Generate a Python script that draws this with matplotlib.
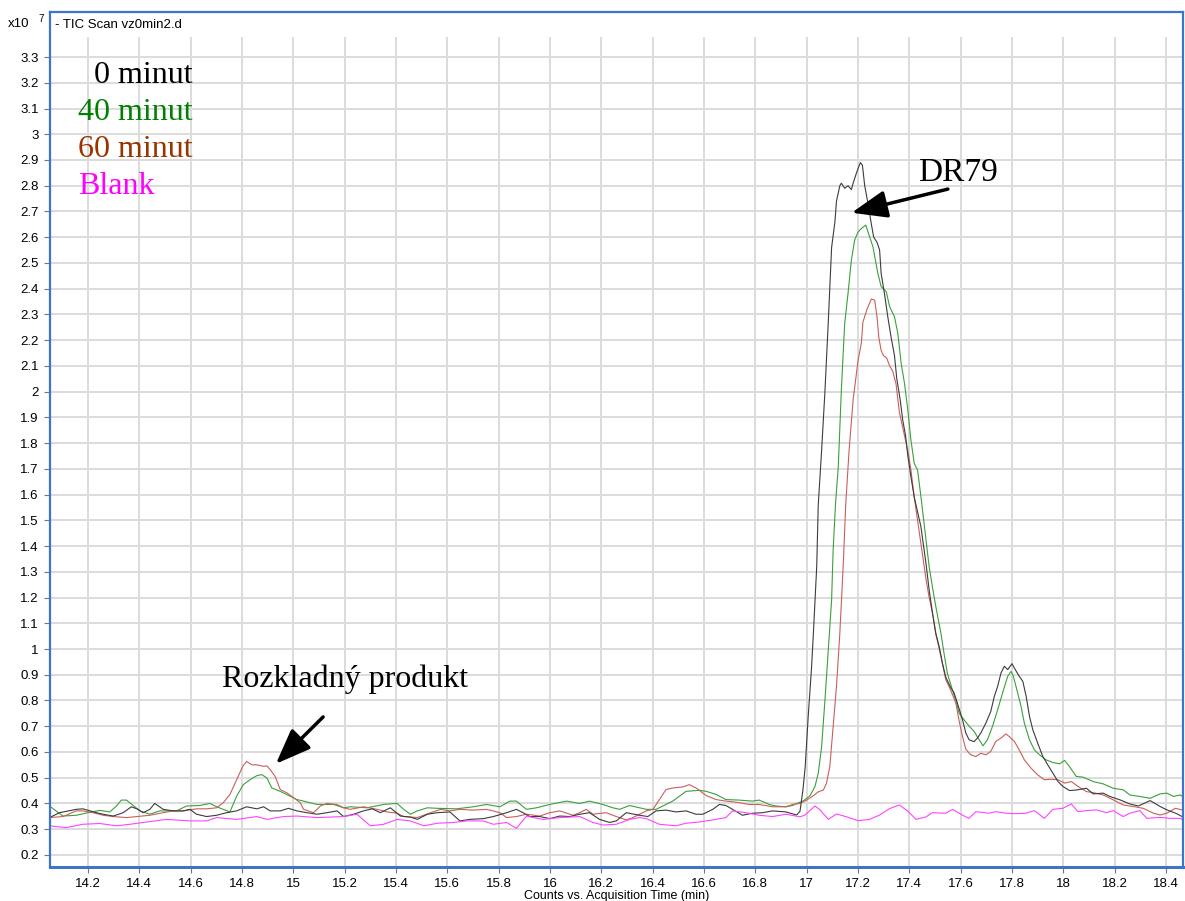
import matplotlib
matplotlib.use("Agg")
import matplotlib.pyplot as plt
from matplotlib.patches import Rectangle
from matplotlib.ticker import MultipleLocator, FormatStrFormatter
import numpy as np

# (time [min], counts x10^7)
min0 = [(14.05, 0.345), (14.089, 0.364), (14.154, 0.377), (14.18, 0.379), (14.233, 0.364), (14.259, 0.358),
        (14.298, 0.351), (14.337, 0.364), (14.369, 0.387), (14.395, 0.377), (14.415, 0.364), (14.441, 0.377),
        (14.46, 0.400), (14.493, 0.377), (14.532, 0.371), (14.571, 0.371), (14.597, 0.377), (14.623, 0.358),
        (14.662, 0.349), (14.701, 0.354), (14.74, 0.364), (14.779, 0.371), (14.818, 0.387), (14.858, 0.379),
        (14.884, 0.387), (14.91, 0.371), (14.949, 0.371), (14.981, 0.381), (15.014, 0.371), (15.053, 0.364),
        (15.092, 0.358), (15.131, 0.364), (15.17, 0.371), (15.196, 0.349), (15.235, 0.358), (15.274, 0.371),
        (15.307, 0.379), (15.339, 0.364), (15.378, 0.383), (15.417, 0.351), (15.456, 0.347), (15.483, 0.338),
        (15.522, 0.358), (15.561, 0.364), (15.61, 0.367), (15.649, 0.332), (15.688, 0.338), (15.74, 0.341),
        (15.779, 0.349), (15.831, 0.364), (15.869, 0.377), (15.895, 0.364), (15.921, 0.349), (15.96, 0.349),
        (15.999, 0.341), (16.038, 0.351), (16.077, 0.349), (16.116, 0.358), (16.154, 0.364), (16.193, 0.338),
        (16.232, 0.326), (16.258, 0.332), (16.297, 0.364), (16.349, 0.354), (16.381, 0.349), (16.413, 0.371),
        (16.452, 0.374), (16.491, 0.367), (16.53, 0.371), (16.569, 0.358), (16.595, 0.358), (16.634, 0.377),
        (16.66, 0.396), (16.685, 0.392), (16.711, 0.377), (16.75, 0.354), (16.789, 0.362), (16.828, 0.364),
        (16.867, 0.371), (16.919, 0.367), (16.961, 0.355), (16.974, 0.370), (16.985, 0.450), (16.994, 0.540),
        (17.006, 0.740), (17.019, 0.930), (17.026, 1.060), (17.039, 1.320), (17.045, 1.560), (17.058, 1.770),
        (17.071, 2.000), (17.084, 2.270), (17.097, 2.560), (17.11, 2.660), (17.116, 2.740), (17.129, 2.800),
        (17.135, 2.810), (17.148, 2.790), (17.161, 2.800), (17.174, 2.785), (17.181, 2.810), (17.194, 2.850),
        (17.209, 2.890), (17.217, 2.880), (17.226, 2.800), (17.239, 2.730), (17.252, 2.650), (17.261, 2.600),
        (17.274, 2.580), (17.284, 2.550), (17.29, 2.460), (17.303, 2.380), (17.316, 2.290), (17.329, 2.210),
        (17.342, 2.140), (17.351, 2.050), (17.364, 1.970), (17.374, 1.890), (17.385, 1.830), (17.394, 1.750),
        (17.406, 1.670), (17.419, 1.590), (17.445, 1.475), (17.465, 1.330), (17.477, 1.230), (17.49, 1.140),
        (17.503, 1.060), (17.516, 1.010), (17.529, 0.944), (17.542, 0.890), (17.561, 0.850), (17.574, 0.830),
        (17.587, 0.790), (17.607, 0.725), (17.62, 0.673), (17.633, 0.647), (17.652, 0.640), (17.665, 0.654),
        (17.678, 0.673), (17.698, 0.712), (17.717, 0.757), (17.731, 0.816), (17.744, 0.855), (17.757, 0.907),
        (17.77, 0.933), (17.783, 0.920), (17.8, 0.943), (17.809, 0.926), (17.828, 0.894), (17.842, 0.874),
        (17.855, 0.816), (17.868, 0.738), (17.881, 0.686), (17.9, 0.634), (17.92, 0.582), (17.939, 0.550),
        (17.959, 0.518), (17.979, 0.485), (17.998, 0.466), (18.024, 0.450), (18.05, 0.452), (18.09, 0.459),
        (18.116, 0.437), (18.155, 0.440), (18.181, 0.427), (18.22, 0.414), (18.259, 0.398), (18.292, 0.390),
        (18.338, 0.411), (18.377, 0.388), (18.403, 0.375), (18.442, 0.360), (18.475, 0.342)]

min40 = [(14.05, 0.390), (14.102, 0.351), (14.154, 0.354), (14.2, 0.364), (14.246, 0.373), (14.285, 0.367),
         (14.311, 0.390), (14.33, 0.413), (14.35, 0.413), (14.376, 0.392), (14.402, 0.371), (14.441, 0.358),
         (14.48, 0.371), (14.545, 0.371), (14.584, 0.390), (14.636, 0.392), (14.675, 0.400), (14.701, 0.387),
         (14.727, 0.377), (14.753, 0.367), (14.779, 0.428), (14.805, 0.473), (14.831, 0.492), (14.858, 0.508),
         (14.877, 0.512), (14.897, 0.499), (14.916, 0.460), (14.949, 0.447), (14.988, 0.428), (15.014, 0.415),
         (15.04, 0.409), (15.092, 0.396), (15.157, 0.396), (15.196, 0.383), (15.222, 0.387), (15.287, 0.383),
         (15.352, 0.396), (15.404, 0.400), (15.43, 0.377), (15.456, 0.358), (15.483, 0.371), (15.522, 0.383),
         (15.561, 0.381), (15.636, 0.379), (15.701, 0.387), (15.753, 0.396), (15.805, 0.387), (15.844, 0.409),
         (15.869, 0.409), (15.908, 0.377), (15.947, 0.383), (15.999, 0.396), (16.064, 0.409), (16.116, 0.400),
         (16.154, 0.409), (16.206, 0.396), (16.245, 0.383), (16.271, 0.377), (16.31, 0.392), (16.349, 0.383),
         (16.375, 0.377), (16.413, 0.377), (16.452, 0.396), (16.478, 0.409), (16.53, 0.447), (16.582, 0.451),
         (16.608, 0.447), (16.647, 0.435), (16.685, 0.415), (16.737, 0.413), (16.789, 0.409), (16.815, 0.413),
         (16.854, 0.396), (16.88, 0.390), (16.919, 0.387), (16.945, 0.392), (16.961, 0.400), (16.987, 0.410),
         (17.013, 0.430), (17.032, 0.465), (17.045, 0.517), (17.058, 0.620), (17.071, 0.800), (17.084, 0.996),
         (17.097, 1.190), (17.103, 1.385), (17.112, 1.560), (17.123, 1.708), (17.135, 2.006), (17.148, 2.265),
         (17.161, 2.382), (17.174, 2.511), (17.187, 2.589), (17.2, 2.620), (17.213, 2.634), (17.23, 2.647),
         (17.258, 2.563), (17.277, 2.460), (17.29, 2.408), (17.31, 2.388), (17.323, 2.330), (17.342, 2.291),
         (17.355, 2.226), (17.368, 2.110), (17.381, 2.032), (17.394, 1.928), (17.406, 1.812), (17.419, 1.721),
         (17.432, 1.695), (17.445, 1.592), (17.465, 1.420), (17.477, 1.320), (17.49, 1.240), (17.503, 1.165),
         (17.523, 1.060), (17.535, 0.983), (17.548, 0.905), (17.568, 0.840), (17.581, 0.800), (17.594, 0.750),
         (17.613, 0.725), (17.633, 0.700), (17.652, 0.680), (17.672, 0.647), (17.687, 0.624), (17.704, 0.647),
         (17.724, 0.700), (17.744, 0.764), (17.763, 0.829), (17.783, 0.894), (17.796, 0.913), (17.805, 0.894),
         (17.822, 0.829), (17.835, 0.777), (17.848, 0.712), (17.868, 0.647), (17.887, 0.608), (17.907, 0.589),
         (17.933, 0.569), (17.959, 0.559), (17.985, 0.554), (18.005, 0.567), (18.024, 0.543), (18.05, 0.505),
         (18.077, 0.502), (18.116, 0.485), (18.155, 0.476), (18.194, 0.459), (18.233, 0.453), (18.259, 0.433),
         (18.298, 0.427), (18.338, 0.420), (18.377, 0.437), (18.403, 0.440), (18.429, 0.427), (18.455, 0.433),
         (18.475, 0.420)]

min60 = [(14.05, 0.345), (14.102, 0.349), (14.154, 0.371), (14.18, 0.371), (14.22, 0.364), (14.259, 0.354),
         (14.298, 0.349), (14.35, 0.345), (14.389, 0.349), (14.441, 0.354), (14.493, 0.364), (14.532, 0.371),
         (14.571, 0.371), (14.623, 0.379), (14.662, 0.379), (14.701, 0.383), (14.727, 0.403), (14.753, 0.435),
         (14.779, 0.492), (14.803, 0.544), (14.818, 0.563), (14.838, 0.550), (14.858, 0.550), (14.884, 0.544),
         (14.897, 0.546), (14.91, 0.531), (14.929, 0.505), (14.949, 0.454), (14.975, 0.441), (15.001, 0.422),
         (15.027, 0.403), (15.04, 0.377), (15.079, 0.364), (15.105, 0.390), (15.131, 0.400), (15.17, 0.396),
         (15.196, 0.383), (15.222, 0.377), (15.274, 0.387), (15.326, 0.377), (15.365, 0.367), (15.404, 0.362),
         (15.43, 0.349), (15.483, 0.345), (15.535, 0.364), (15.574, 0.377), (15.61, 0.371), (15.649, 0.377),
         (15.701, 0.374), (15.753, 0.377), (15.805, 0.364), (15.831, 0.345), (15.869, 0.349), (15.908, 0.358),
         (15.96, 0.351), (15.999, 0.364), (16.038, 0.371), (16.09, 0.354), (16.116, 0.364), (16.141, 0.377),
         (16.167, 0.358), (16.219, 0.364), (16.258, 0.349), (16.297, 0.336), (16.323, 0.345), (16.349, 0.358),
         (16.375, 0.371), (16.401, 0.377), (16.426, 0.415), (16.452, 0.454), (16.478, 0.460), (16.517, 0.464),
         (16.543, 0.473), (16.569, 0.460), (16.608, 0.431), (16.647, 0.415), (16.685, 0.409), (16.724, 0.405),
         (16.776, 0.396), (16.815, 0.396), (16.867, 0.387), (16.919, 0.387), (16.945, 0.396), (16.974, 0.400),
         (17.0, 0.413), (17.026, 0.430), (17.045, 0.445), (17.065, 0.452), (17.077, 0.478), (17.09, 0.543),
         (17.103, 0.700), (17.116, 0.854), (17.129, 1.060), (17.142, 1.320), (17.152, 1.560), (17.165, 1.770),
         (17.181, 1.970), (17.2, 2.120), (17.213, 2.190), (17.219, 2.270), (17.235, 2.320), (17.252, 2.360),
         (17.265, 2.355), (17.274, 2.290), (17.281, 2.210), (17.29, 2.160), (17.299, 2.140), (17.312, 2.130),
         (17.323, 2.100), (17.335, 2.080), (17.348, 2.030), (17.361, 1.920), (17.381, 1.830), (17.394, 1.770),
         (17.406, 1.695), (17.419, 1.590), (17.439, 1.450), (17.452, 1.360), (17.465, 1.270), (17.477, 1.200),
         (17.49, 1.140), (17.503, 1.060), (17.523, 0.970), (17.542, 0.880), (17.561, 0.840), (17.581, 0.790),
         (17.594, 0.720), (17.607, 0.660), (17.62, 0.610), (17.639, 0.589), (17.659, 0.582), (17.678, 0.595),
         (17.698, 0.589), (17.717, 0.602), (17.737, 0.641), (17.757, 0.654), (17.776, 0.670), (17.789, 0.660),
         (17.809, 0.641), (17.828, 0.608), (17.848, 0.569), (17.874, 0.537), (17.9, 0.511), (17.926, 0.492),
         (17.952, 0.494), (17.979, 0.492), (18.005, 0.479), (18.031, 0.485), (18.057, 0.466), (18.09, 0.446),
         (18.116, 0.442), (18.155, 0.433), (18.194, 0.414), (18.233, 0.394), (18.272, 0.388), (18.311, 0.381),
         (18.351, 0.362), (18.377, 0.355), (18.403, 0.362), (18.436, 0.381), (18.462, 0.375), (18.475, 0.362)]

blank = [(14.05, 0.313), (14.115, 0.306), (14.18, 0.319), (14.246, 0.322), (14.311, 0.313), (14.363, 0.319),
         (14.415, 0.326), (14.506, 0.338), (14.597, 0.332), (14.662, 0.332), (14.701, 0.345), (14.779, 0.338),
         (14.858, 0.349), (14.897, 0.338), (14.962, 0.349), (15.014, 0.351), (15.092, 0.345), (15.196, 0.349),
         (15.248, 0.358), (15.3, 0.313), (15.352, 0.319), (15.404, 0.338), (15.456, 0.332), (15.509, 0.313),
         (15.561, 0.323), (15.623, 0.326), (15.675, 0.332), (15.74, 0.332), (15.779, 0.319), (15.831, 0.326),
         (15.869, 0.303), (15.908, 0.351), (15.934, 0.345), (15.973, 0.338), (16.038, 0.345), (16.116, 0.349),
         (16.167, 0.326), (16.206, 0.316), (16.258, 0.319), (16.31, 0.338), (16.349, 0.345), (16.375, 0.341),
         (16.426, 0.319), (16.491, 0.313), (16.53, 0.323), (16.582, 0.328), (16.634, 0.336), (16.685, 0.345),
         (16.711, 0.371), (16.763, 0.364), (16.815, 0.354), (16.867, 0.349), (16.919, 0.358), (16.974, 0.348),
         (16.994, 0.355), (17.032, 0.390), (17.052, 0.375), (17.084, 0.338), (17.116, 0.359), (17.155, 0.348),
         (17.2, 0.333), (17.245, 0.338), (17.284, 0.355), (17.323, 0.380), (17.361, 0.394), (17.394, 0.370),
         (17.426, 0.338), (17.465, 0.348), (17.49, 0.364), (17.542, 0.362), (17.568, 0.377), (17.606, 0.355),
         (17.632, 0.342), (17.659, 0.368), (17.711, 0.362), (17.737, 0.368), (17.776, 0.362), (17.815, 0.360),
         (17.855, 0.362), (17.887, 0.372), (17.926, 0.342), (17.959, 0.377), (17.998, 0.381), (18.031, 0.398),
         (18.057, 0.368), (18.09, 0.372), (18.129, 0.375), (18.168, 0.364), (18.194, 0.372), (18.233, 0.349),
         (18.259, 0.362), (18.298, 0.372), (18.325, 0.342), (18.377, 0.346), (18.416, 0.342), (18.455, 0.342),
         (18.475, 0.333)]

series = [("0 minut", min0, "#3c3c3c", "black"),
          ("40 minut", min40, "#3aa03a", "#008000"),
          ("60 minut", min60, "#c8605a", "#993300"),
          ("Blank", blank, "#ff44ff", "#ff00ff")]

fig = plt.figure(figsize=(11.85, 9.01), dpi=100)
ax = fig.add_axes([50 / 1185, 34 / 901, 1133 / 1185, 855 / 901])

for name, pts, c, _ in [series[1], series[2], series[0], series[3]]:
    t, y = np.array(pts).T
    ax.plot(t, y, color=c, lw=0.8, zorder=2)

ax.set_xlim(14.052, 18.466)
ax.set_ylim(0.153, 3.475)
ax.xaxis.set_major_formatter(FormatStrFormatter("%g"))
ax.yaxis.set_major_formatter(FormatStrFormatter("%g"))
ax.set_yticks(np.round(np.arange(0.2, 3.31, 0.1), 1))
ax.set_xticks(np.round(np.arange(14.2, 18.41, 0.2), 1))
ax.set_axisbelow(True)
ax.grid(True, color="#dcdcdc", lw=1.4)
ax.tick_params(direction="out", length=4, width=0.8, color="#777777", labelsize=9.5, pad=4)
for lab in ax.get_xticklabels() + ax.get_yticklabels():
    lab.set_family("Liberation Sans")
for s in ax.spines.values():
    s.set_color("#3f74cc")
    s.set_linewidth(1.6)
ax.spines["bottom"].set_linewidth(2.2)

# white header strip with the trace title
ax.add_patch(Rectangle((0, 0.971), 1, 0.029, transform=ax.transAxes, facecolor="white",
                       edgecolor="none", zorder=1.5))
ax.text(0.004, 0.985, "- TIC Scan vz0min2.d", transform=ax.transAxes, va="center",
        fontsize=9.5, family="Liberation Sans")
fig.text(8 / 1185, 1 - 24 / 901, "x10", fontsize=9.5, family="Liberation Sans", va="center")
fig.text(38 / 1185, 1 - 19 / 901, "7", fontsize=7, family="Liberation Sans", va="center")
ax.set_xlabel("Counts vs. Acquisition Time (min)", fontsize=9, family="Liberation Sans", labelpad=0)

# legend text
for i, (name, _, _, tc) in enumerate(series[:3]):
    ax.text(14.609, 3.199 - i * 0.1437, name, color=tc, fontsize=23, family="Liberation Serif",
            ha="right", va="baseline")
ax.text(14.161, 3.199 - 3 * 0.1437, "Blank", color="#ff00ff", fontsize=23, family="Liberation Serif",
        ha="left", va="baseline")

ax.text(17.433, 2.818, "DR79", fontsize=24, family="Liberation Serif", va="baseline")
ax.text(14.722, 0.853, "Rozkladný produkt", fontsize=23, family="Liberation Serif", va="baseline")
arrow = dict(arrowstyle="-|>,head_length=0.9,head_width=0.35", lw=2.5, color="black",
             mutation_scale=24, shrinkA=0, shrinkB=0)
ax.annotate("", xy=(17.175, 2.695), xytext=(17.55, 2.787), arrowprops=arrow)
ax.annotate("", xy=(14.932, 0.554), xytext=(15.116, 0.736), arrowprops=arrow)

fig.savefig("out.png", dpi=100)
